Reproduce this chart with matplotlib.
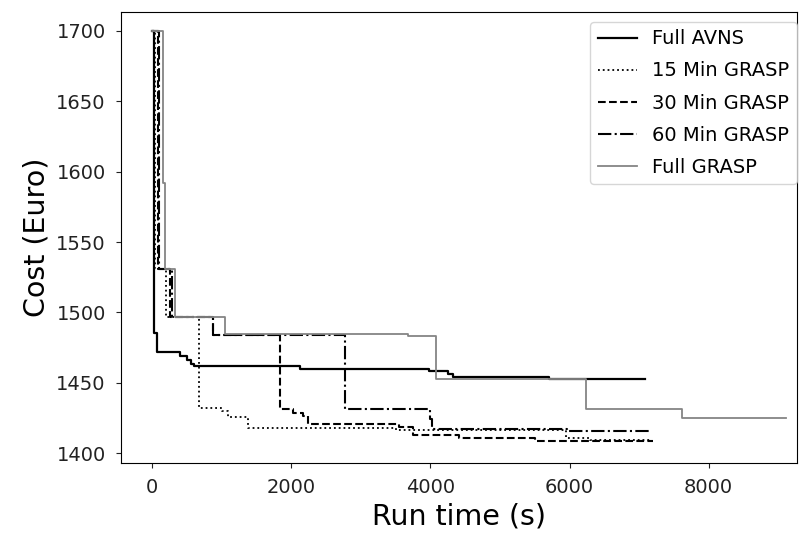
import matplotlib
matplotlib.use("Agg")
import matplotlib.pyplot as plt

# Full AVNS
avns_t = [0, 20, 67, 400, 500, 550, 600, 2120, 3980, 4250, 4330, 5700, 7090]
avns_c = [1700, 1485, 1471.5, 1469, 1466, 1463, 1461.7, 1460, 1458, 1456, 1454, 1452.6, 1452.6]

# 15 Min GRASP
g15_t = [0, 45, 196, 676, 998, 1090, 1380, 3500, 5950, 6300, 7180]
g15_c = [1700, 1531, 1497, 1432, 1429.6, 1425.6, 1417.5, 1416.2, 1411, 1409.2, 1409.2]

# 30 Min GRASP
g30_t = [0, 80, 258, 870, 1830, 2020, 2170, 2235, 3550, 3750, 4410, 5510, 7200]
g30_c = [1700, 1531, 1497, 1484, 1431, 1428.8, 1426.5, 1420.5, 1418.5, 1413, 1410.7, 1408.2, 1408.2]

# 60 Min GRASP
g60_t = [0, 100, 290, 880, 2770, 3990, 4025, 5960, 7180]
g60_c = [1700, 1531, 1497, 1484, 1431, 1424, 1417, 1415.3, 1415.3]

# Full GRASP
gf_t = [0, 153, 186, 320, 1046, 3672, 4080, 6237, 7612, 9116]
gf_c = [1700, 1592, 1531, 1497, 1484.6, 1483.3, 1452.6, 1431.3, 1425, 1425]

series = [
    ("Full AVNS", avns_t, avns_c, dict(color="black", linestyle="-", linewidth=1.6)),
    ("15 Min GRASP", g15_t, g15_c, dict(color="black", linestyle=":", linewidth=1.3)),
    ("30 Min GRASP", g30_t, g30_c, dict(color="black", linestyle="--", linewidth=1.5)),
    ("60 Min GRASP", g60_t, g60_c, dict(color="black", linestyle="-.", linewidth=1.5)),
    ("Full GRASP", gf_t, gf_c, dict(color="#858585", linestyle="-", linewidth=1.3)),
]

fig = plt.figure(figsize=(8.08, 5.38), dpi=100)
ax = fig.add_axes([0.1498, 0.1394, 0.8366, 0.8383])
for name, t, c, st in series:
    ax.step(t, c, where="post", label=name, **st)

ax.set_xlim(-449, 9271)
ax.set_ylim(1392.9, 1713.5)
ax.set_xticks([0, 2000, 4000, 6000, 8000])
ax.set_yticks([1400, 1450, 1500, 1550, 1600, 1650, 1700])
ax.tick_params(labelsize=14, colors="#222222", pad=7.5)
ax.set_xlabel("Run time (s)", fontsize=20.5)
ax.set_ylabel("Cost (Euro)", fontsize=20.5)
ax.legend(loc="upper right", bbox_to_anchor=(1.0, 0.9785), borderaxespad=0,
          fontsize=14, labelspacing=0.67)
fig.savefig("out.png", dpi=100)
